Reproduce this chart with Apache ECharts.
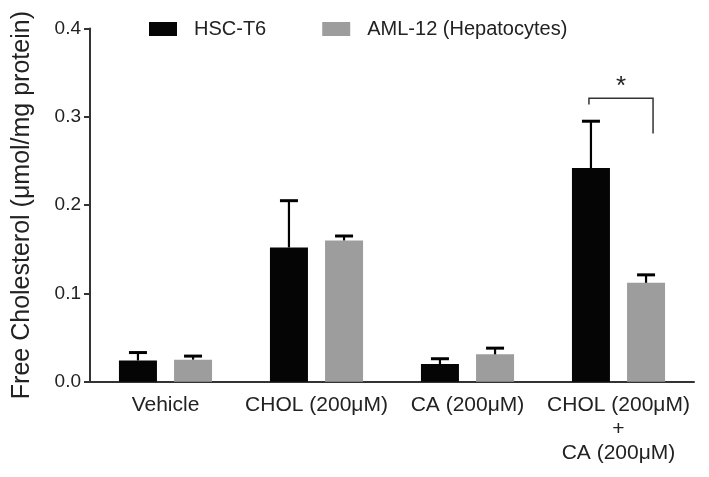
<!DOCTYPE html>
<html>
<head>
<meta charset="utf-8">
<script src="https://cdn.jsdelivr.net/npm/echarts@6/dist/echarts.min.js"></script>
<style>
  html, body { margin: 0; padding: 0; background: #fff; }
  #chart { width: 709px; height: 477px; }
</style>
</head>
<body>
<div id="chart"></div>
<script>
// data
var categories = ['Vehicle', 'CHOL (200μM)', 'CA (200μM)', 'CHOL (200μM)\n+\nCA (200μM)'];
var hscMean = [0.024, 0.152, 0.020, 0.242];
var hscErr  = [0.009, 0.053, 0.006, 0.053];
var amlMean = [0.025, 0.160, 0.031, 0.112];
var amlErr  = [0.004, 0.005, 0.007, 0.009];
var yTicks = [0, 0.1, 0.2, 0.3, 0.4];
// significance bracket on the last group: left end, top, right end, star
var sigCat = 3;
var sigLevels = [0.314, 0.321, 0.281];
var sigStar = 0.334;

var barW = 38;
var barGap = 0.45;
var halfSpan = barW * (1 + barGap) / 2;

function errData(mean, err) {
    var out = [];
    for (var i = 0; i < mean.length; i++) out.push([i, mean[i], mean[i] + err[i]]);
    return out;
}

function errRender(offset) {
    return function (params, api) {
        var c = api.coord([api.value(0), api.value(1)]);
        var t = api.coord([api.value(0), api.value(2)]);
        var x = c[0] + offset;
        return {
            type: 'group',
            children: [
                { type: 'line', shape: { x1: x, y1: c[1], x2: x, y2: t[1] }, style: { stroke: '#000', lineWidth: 2.2 } },
                { type: 'line', shape: { x1: x - 9, y1: t[1], x2: x + 9, y2: t[1] }, style: { stroke: '#000', lineWidth: 3 } }
            ]
        };
    };
}

var dom = document.getElementById('chart');
var myChart = echarts.init(dom, null, { renderer: 'canvas' });
var font = 'Liberation Sans, Arial, sans-serif';

var option = {
    animation: false,
    textStyle: { fontFamily: font },
    legend: {
        data: ['HSC-T6', 'AML-12 (Hepatocytes)'],
        left: 144,
        top: 14,
        itemWidth: 28,
        itemHeight: 14,
        itemGap: 56,
        icon: 'rect',
        textStyle: { fontSize: 20, color: '#222', fontFamily: font, padding: [0, 0, 0, 12] }
    },
    grid: { left: 90, right: 15, top: 28.5, bottom: 95.3 },
    xAxis: {
        type: 'category',
        data: categories,
        axisLine: { lineStyle: { color: '#333', width: 2 } },
        axisTick: { alignWithLabel: true, length: 5, lineStyle: { color: '#333', width: 2 } },
        axisLabel: { fontSize: 21, color: '#222', margin: 12, lineHeight: 24, interval: 0 }
    },
    yAxis: {
        type: 'value',
        min: yTicks[0],
        max: yTicks[yTicks.length - 1],
        interval: 0.1,
        name: 'Free Cholesterol (μmol/mg protein)',
        nameLocation: 'middle',
        nameGap: 55,
        nameTextStyle: { fontSize: 25, color: '#222' },
        axisLine: { show: true, lineStyle: { color: '#333', width: 2 } },
        axisTick: { show: true, length: 6, lineStyle: { color: '#333', width: 2 } },
        axisLabel: { fontSize: 19, color: '#222', margin: 9, formatter: function (v) { return v.toFixed(1); } },
        splitLine: { show: false }
    },
    series: [
        { name: 'HSC-T6', type: 'bar', data: hscMean, barWidth: barW, barGap: (barGap * 100) + '%', itemStyle: { color: '#050505' } },
        { name: 'AML-12 (Hepatocytes)', type: 'bar', data: amlMean, barWidth: barW, itemStyle: { color: '#9d9d9d' } },
        { type: 'custom', renderItem: errRender(-halfSpan), data: errData(hscMean, hscErr), z: 3 },
        { type: 'custom', renderItem: errRender(halfSpan), data: errData(amlMean, amlErr), z: 3 },
        {
            type: 'custom',
            z: 4,
            data: [[sigCat, sigLevels[0], sigLevels[1], sigLevels[2], sigStar]],
            renderItem: function (params, api) {
                var cat = api.value(0);
                var pl = api.coord([cat, api.value(1)]);
                var pt = api.coord([cat, api.value(2)]);
                var pr = api.coord([cat, api.value(3)]);
                var ps = api.coord([cat, api.value(4)]);
                var xl = pl[0] - halfSpan - 2;
                var xr = pl[0] + halfSpan + 7;
                return {
                    type: 'group',
                    children: [
                        { type: 'polyline', shape: { points: [[xl, pl[1]], [xl, pt[1]], [xr, pt[1]], [xr, pr[1]]] }, style: { stroke: '#333', lineWidth: 1.5, fill: null } },
                        { type: 'text', x: (xl + xr) / 2, y: ps[1], style: { text: '*', fontSize: 26, fontFamily: font, fill: '#222', align: 'center', verticalAlign: 'middle' } }
                    ]
                };
            }
        }
    ]
};

myChart.setOption(option);
window.addEventListener('resize', myChart.resize);
</script>
</body>
</html>
